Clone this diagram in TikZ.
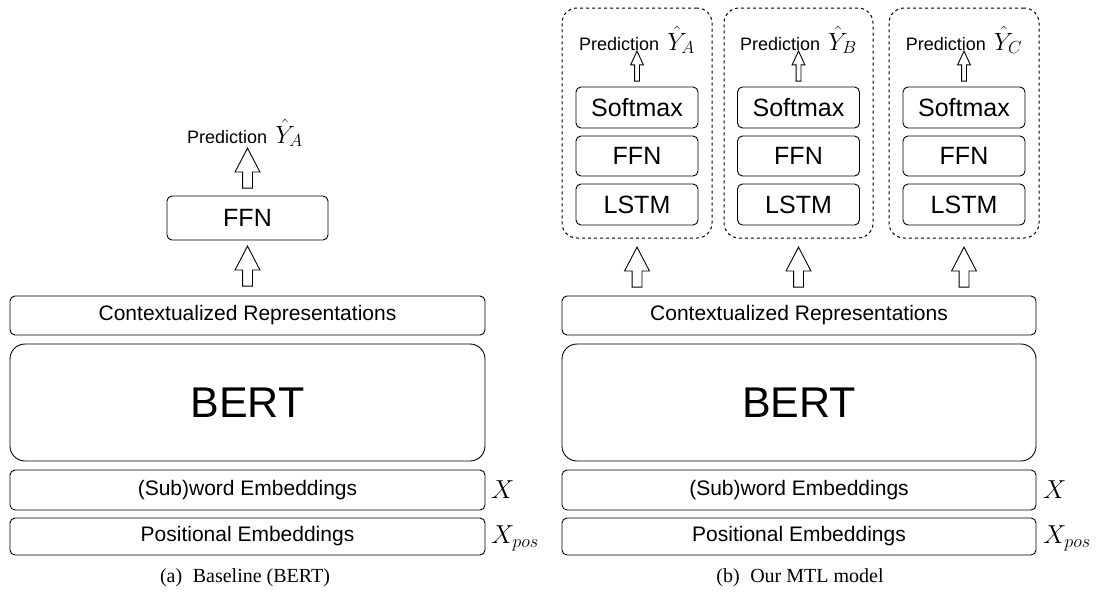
\RequirePackage{fix-cm}
\documentclass[tikz,border=0pt]{standalone}
\usepackage{fontspec}
\setmainfont{Liberation Serif}
\setsansfont{Liberation Sans}
\usetikzlibrary{positioning,shapes.arrows}

\newcommand{\predmath}[1]{{\fontsize{25}{28}\selectfont$\hat{Y}_{#1}$}}

\tikzset{
  layer/.style={draw, rounded corners=5pt, line width=0.9pt, inner sep=0pt,
    minimum width=475pt, minimum height=39pt, font=\sffamily\fontsize{21}{24}\selectfont},
  bertbox/.style={layer, rounded corners=15pt, minimum height=117pt,
    font=\sffamily\fontsize{43}{48}\selectfont},
  headbox/.style={draw, rounded corners=5pt, line width=0.9pt, inner sep=0pt,
    minimum width=122pt, minimum height=41pt, font=\sffamily\fontsize{25}{28}\selectfont},
  taskbox/.style={draw, dashed, rounded corners=15pt, line width=1pt,
    minimum width=150pt, minimum height=230pt},
  predtext/.style={inner sep=0pt, anchor=base, font=\sffamily\fontsize{18}{20}\selectfont},
  inlabel/.style={inner sep=0pt, anchor=west, font=\fontsize{26}{28}\selectfont},
  bigarr/.style={draw, single arrow, shape border rotate=90, line width=0.9pt,
    single arrow head extend=7.5pt, single arrow head indent=0pt,
    single arrow tip angle=55, minimum height=40pt, inner sep=4.5pt},
  smallarr/.style={bigarr, single arrow head extend=4pt, single arrow tip angle=50,
    minimum height=30pt, inner sep=2pt},
  caption/.style={font=\fontsize{20}{22}\selectfont}
}

\begin{document}
\begin{tikzpicture}[x=1pt, y=-1pt]
\useasboundingbox (0,0) rectangle (1099,603);

% (a) baseline
\node[layer] (baseCtx) at (247.5, 315.5) {Contextualized Representations};
\node[bertbox] (baseBert) at (247.5, 402.5) {BERT};
\node[layer, minimum height=40pt] (baseSub) at (247.5, 490) {(Sub)word Embeddings};
\node[layer, minimum height=37pt] (basePos) at (247.5, 536.5) {Positional Embeddings};
\node[inlabel] (baseX) at (491, 490) {$X$};
\node[inlabel] (baseXpos) at (491, 538) {$X_{pos}$};

\node[headbox, minimum width=161pt, minimum height=44pt] (baseFfn) at (247.5, 218) {FFN};
\node[bigarr, above=9pt of baseCtx] (baseUp) {};
\node[bigarr, above=7pt of baseFfn] (baseOut) {};
\node[predtext] (basePred) at (245, 143) {Prediction\, \predmath{A}};

\node[caption] (capA) at (245, 578) {(a)\; Baseline (BERT)};

% (b) MTL model
\node[layer, minimum width=474pt] (mtlCtx) at (799, 315.5) {Contextualized Representations};
\node[bertbox, minimum width=474pt] (mtlBert) at (799, 402.5) {BERT};
\node[layer, minimum width=474pt, minimum height=40pt] (mtlSub) at (799, 490) {(Sub)word Embeddings};
\node[layer, minimum width=474pt, minimum height=37pt] (mtlPos) at (799, 536.5) {Positional Embeddings};
\node[inlabel] (mtlX) at (1043, 490) {$X$};
\node[inlabel] (mtlXpos) at (1043, 538) {$X_{pos}$};

% task A
\node[taskbox] (taskA) at (637, 123) {};
\node[headbox] (lstmA) at (637, 204.5) {LSTM};
\node[headbox, minimum height=40pt] (ffnA) at (637, 156) {FFN};
\node[headbox] (softA) at (637, 107.5) {Softmax};
\node[smallarr, above=5pt of softA] (outA) {};
\node[predtext] (predA) at (637, 50) {Prediction\, \predmath{A}};
\coordinate (footA) at (mtlCtx.north -| taskA.south);
\node[bigarr, above=8pt of footA] (upA) {};

% task B
\node[taskbox, minimum width=149pt] (taskB) at (798.5, 123) {};
\node[headbox] (lstmB) at (798.5, 204.5) {LSTM};
\node[headbox, minimum height=40pt] (ffnB) at (798.5, 156) {FFN};
\node[headbox] (softB) at (798.5, 107.5) {Softmax};
\node[smallarr, above=5pt of softB] (outB) {};
\node[predtext] (predB) at (798.5, 50) {Prediction\, \predmath{B}};
\coordinate (footB) at (mtlCtx.north -| taskB.south);
\node[bigarr, above=8pt of footB] (upB) {};

% task C
\node[taskbox] (taskC) at (964, 123) {};
\node[headbox] (lstmC) at (964, 204.5) {LSTM};
\node[headbox, minimum height=40pt] (ffnC) at (964, 156) {FFN};
\node[headbox] (softC) at (964, 107.5) {Softmax};
\node[smallarr, above=5pt of softC] (outC) {};
\node[predtext] (predC) at (964, 50) {Prediction\, \predmath{C}};
\coordinate (footC) at (mtlCtx.north -| taskC.south);
\node[bigarr, above=8pt of footC] (upC) {};

\node[caption] (capB) at (800, 578) {(b)\; Our MTL model};
\end{tikzpicture}
\end{document}
